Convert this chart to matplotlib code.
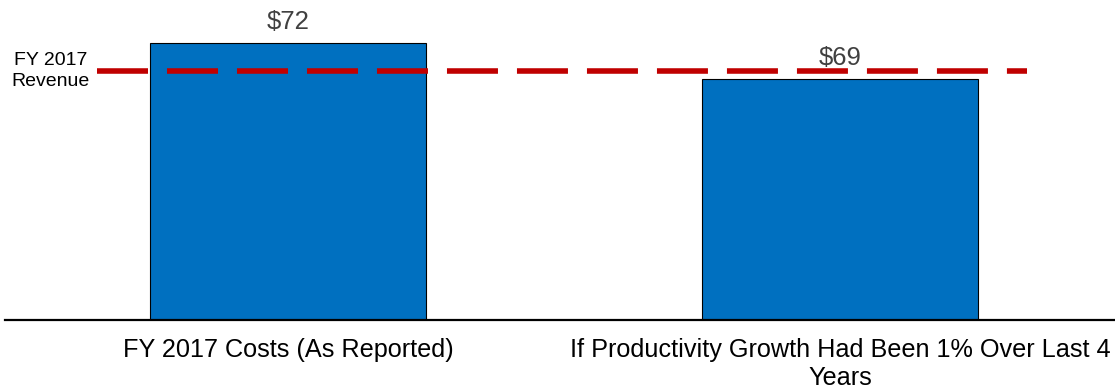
import matplotlib
matplotlib.use("Agg")
import matplotlib.pyplot as plt

categories = ["FY 2017 Costs (As Reported)",
              "If Productivity Growth Had Been 1% Over Last 4\nYears"]
values = [72, 69]
value_labels = ["$72", "$69"]
revenue = 69.7
revenue_label = "FY 2017\nRevenue"

plt.rcParams['font.family'] = ['Liberation Sans', 'DejaVu Sans']

W, H = 1115, 392
fig = plt.figure(figsize=(W / 100, H / 100), dpi=100)
ax = fig.add_axes([5 / W, 72 / H, 1 - 5 / W, 320 / H])

x = [0, 1]
ax.bar(x, values, width=0.5, color="#0070C0", edgecolor="black", linewidth=0.8, zorder=2)

ymin = 49.27
ax.set_ylim(ymin, ymin + 320 / 12.2)
ax.set_xlim(-0.513, 1.498)

lw = 4.0
ax.plot([-0.346, 1.339], [revenue, revenue], color="#C00000", linewidth=lw,
        dashes=(51 / 1.389 / lw, 19 / 1.389 / lw), zorder=3,
        solid_capstyle="butt", dash_capstyle="butt")

for xi, v, lab in zip(x, values, value_labels):
    ax.annotate(lab, (xi, v), xytext=(0, 10), textcoords="offset points",
                ha="center", va="baseline", fontsize=18.5, color="#404040")

ax.text(-0.431, revenue, revenue_label, ha="center", va="center", fontsize=14,
        color="black", linespacing=1.3)

for s in ["top", "right", "left"]:
    ax.spines[s].set_visible(False)
ax.spines["bottom"].set_linewidth(1.6)
ax.spines["bottom"].set_color("black")
ax.set_yticks([])
ax.set_xticks(x)
ax.set_xticklabels(categories, fontsize=18.2, linespacing=1.2)
ax.tick_params(axis="x", length=0, pad=13)

fig.savefig("out.png", dpi=100)
